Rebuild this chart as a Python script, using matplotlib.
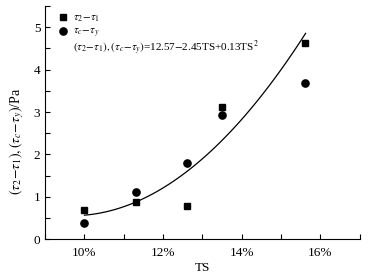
import numpy as np
import matplotlib
matplotlib.use('Agg')
import matplotlib.pyplot as plt
from matplotlib.ticker import MultipleLocator, FuncFormatter

plt.rcParams['font.family'] = ['Liberation Serif', 'DejaVu Serif']
plt.rcParams['mathtext.fontset'] = 'stix'

# Dados
ts = [10.0, 11.3, 12.6, 13.5, 15.6]
tau21 = [0.68, 0.87, 0.78, 3.11, 4.64]
taucy = [0.38, 1.10, 1.80, 2.92, 3.69]

# pontos da curva ajustada
curva_ts = [10.0, 10.68, 11.31, 11.94, 12.45, 12.95, 13.97, 15.62]
curva_val = [0.59, 0.70, 0.86, 1.14, 1.41, 1.80, 3.00, 4.79]

fig = plt.figure(figsize=(3.76, 2.78), dpi=100)
ax = fig.add_axes([0.12, 0.14, 0.837, 0.838])

coef = np.polyfit(curva_ts, curva_val, 2)
xs = np.linspace(curva_ts[0], curva_ts[-1], 100)
ax.plot(xs, np.polyval(coef, xs), color='black', lw=0.9)

ax.plot(ts, tau21, 's', color='black', ms=4.8, label=r'$\tau_2\!-\!\tau_1$')
ax.plot(ts, taucy, 'o', color='black', ms=5.2, label=r'$\tau_c\!-\!\tau_y$')

ax.set_xlim(9, 17)
ax.set_ylim(0, 5.5)
ax.xaxis.set_major_locator(MultipleLocator(2))
ax.xaxis.set_minor_locator(MultipleLocator(1))
ax.yaxis.set_major_locator(MultipleLocator(1))
ax.yaxis.set_minor_locator(MultipleLocator(0.5))
ax.xaxis.set_major_formatter(FuncFormatter(lambda v, p: '%d%%' % v))
ax.tick_params(which='both', direction='in', labelsize=9.5, width=0.8, length=3.5)
ax.tick_params(axis='x', pad=6)
ax.spines['top'].set_visible(False)
ax.spines['right'].set_visible(False)

ax.set_xlabel('TS', fontsize=9.5, labelpad=2)
ax.set_ylabel(r'$(\tau_2\!-\!\tau_1),(\tau_c\!-\!\tau_y)$/Pa', fontsize=10)
ax.yaxis.set_label_coords(-0.06, 0.42)

ax.legend(loc='upper left', frameon=False, fontsize=8, handlelength=0.8,
          handletextpad=0.5, labelspacing=0.25, borderaxespad=0.2,
          bbox_to_anchor=(0.02, 1.0))
ax.text(0.09, 0.805,
        r'$(\tau_2\!-\!\tau_1),(\tau_c\!-\!\tau_y)$=12.57$-$2.45TS+0.13TS$^2$',
        transform=ax.transAxes, fontsize=8)

plt.savefig('out.png', dpi=100)
